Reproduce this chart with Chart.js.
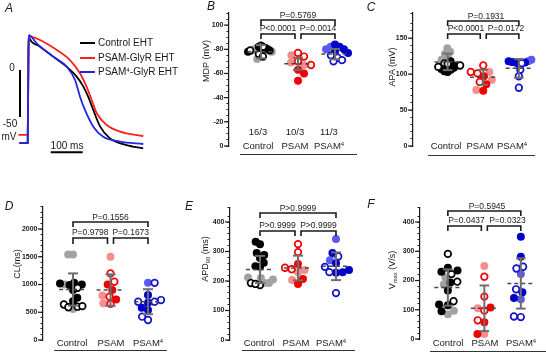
<!DOCTYPE html>
<html><head><meta charset="utf-8">
<script src="https://cdn.jsdelivr.net/npm/chart.js@4.4.1/dist/chart.umd.min.js"></script>
<style>
html,body{margin:0;padding:0;background:#fff;}
#fig{position:relative;width:546px;height:352px;overflow:hidden;font-family:"Liberation Sans",Arial,Helvetica,sans-serif;color:#1a1a1a;background:#fff;}
canvas{position:absolute;}
.t{position:absolute;transform:translate(-50%,-50%);white-space:nowrap;line-height:1;}
.l{position:absolute;transform:translate(0,-50%);white-space:nowrap;line-height:1;}
.r{position:absolute;transform:translate(-50%,-50%) rotate(-90deg);white-space:nowrap;line-height:1;}
.sup{font-size:0.62em;position:relative;top:-0.5em;}
.sub{font-size:0.65em;position:relative;top:0.3em;}
.hl{position:absolute;height:0;border-top:1px solid #333;}
</style></head>
<body><div id="fig"></div>
<script>
// ---------------- DATA ----------------
const categories = ['Control', 'PSAM', 'PSAM4'];
const nLabels = ['16/3', '10/3', '11/3'];
const legendLabels = ['Control EHT', 'PSAM-GlyR EHT', 'PSAM4-GlyR EHT'];

// Panel A: action potential traces (ms, mV)
const controlTimeMs = [-2, 24, 26.5, 28.5, 36.5, 62.5, 104, 146, 177, 198, 213, 229, 250, 281, 333, 385];
const controlMv     = [-77.7, -77.7, 20, 34, 30, 24.8, 14.2, 3.5, -7, -17.7, -28.4, -42.5, -60, -72.7, -79.8, -83.3];
const psamTimeMs = [-5, 24, 26.5, 28.5, 73, 115, 156, 187.5, 208, 224, 240, 271, 312.5, 385];
const psamMv     = [-69.1, -69.1, 20, 35.4, 30.1, 21.3, 10.6, -3.5, -17.7, -31.9, -46, -58.5, -65.6, -70.2];
const psam4TimeMs = [-2, 24, 26.5, 28.3, 52, 104, 146, 172, 187.5, 203, 229, 260, 312.5, 385];
const psam4Mv     = [-77.7, -77.7, 20, 37.2, 28.4, 14.2, 3.5, -10.6, -28.4, -42.5, -60.3, -71, -76.2, -78.7];
const scaleBarMv = 50, scaleBarMs = 100, timeBarStartMs = 96, timeBarMv = -87.6;

// Panel B: MDP (mV)
const mdpControlDark = [-82, -81, -80, -79, -78, -77];
const mdpControlLight = [-81, -80, -79, -78, -72];
const mdpControlOpen = [-83, -82, -79, -76, -74];
const mdpPsamDark = [-63, -60, -54];
const mdpPsamLight = [-75, -69, -67];
const mdpPsamOpen = [-77, -74, -70, -67];
const mdpPsam4Dark = [-84, -82, -80, -78, -77];
const mdpPsam4Light = [-82, -80];
const mdpPsam4Open = [-75, -73, -71, -70];
const mdpMean = [-78, -68, -76];
const mdpSd = [5.5, 5, 4.3];
const mdpP = ['P<0.0001', 'P=0.0014', 'P=0.5769'];

// Panel C: APA (mV)
const apaControlDark = [118, 112, 109, 107, 106, 104, 103];
const apaControlLight = [136, 131, 128, 124, 120];
const apaControlOpen = [115, 114, 112, 110];
const apaPsamDark = [97, 86, 77];
const apaPsamLight = [103, 92, 78];
const apaPsamOpen = [112, 103, 101, 89];
const apaPsam4Dark = [118, 117, 116, 114];
const apaPsam4Light = [120, 118, 116];
const apaPsam4Open = [115, 106, 97, 81];
const apaMean = [117, 95.5, 108];
const apaSd = [11.5, 10.5, 13];
const apaP = ['P<0.0001', 'P=0.0172', 'P=0.1931'];

// Panel D: CL (ms)
const clControlDark = [1030, 1020, 1000, 990, 900, 760, 700];
const clControlLight = [1540, 1540, 1000, 560];
const clControlOpen = [940, 640, 600, 590, 610];
const clPsamDark = [1000, 900, 730];
const clPsamLight = [1500, 800, 660];
const clPsamOpen = [1200, 1050, 780, 650];
const clPsam4Dark = [810, 670, 580, 540];
const clPsam4Light = [1030];
const clPsam4Open = [1030, 720, 690, 690, 420, 360];
const clMean = [910, 900, 690];
const clSd = [290, 283, 225];
const clP = ['P=0.9798', 'P=0.1673', 'P=0.1556'];

// Panel E: APD90 (ms)
const apdControlDark = [333, 325, 295, 288, 278, 262, 250, 248];
const apdControlLight = [212, 210, 205, 193, 193];
const apdControlOpen = [193, 186, 190];
const apdPsamDark = [258, 207, 190];
const apdPsamLight = [237, 230, 203];
const apdPsamOpen = [325, 298, 245, 240];
const apdPsam4Dark = [295, 260, 237, 230, 228];
const apdPsam4Light = [342, 270];
const apdPsam4Open = [283, 248, 230, 159];
const apdMean = [239, 244, 250];
const apdSd = [46, 42, 47];
const apdP = ['P>0.9999', 'P>0.9999', 'P>0.9999'];

// Panel F: Vmax (V/s)
const vmaxControlDark = [244, 234, 230, 193, 166, 118, 115, 95];
const vmaxControlLight = [210, 186, 97, 85];
const vmaxControlOpen = [291, 222, 196, 129];
const vmaxPsamDark = [108, 57, 17];
const vmaxPsamLight = [250, 105, 17];
const vmaxPsamOpen = [213, 145, 97, 64];
const vmaxPsam4Dark = [350, 281, 160, 140];
const vmaxPsam4Light = [222, 136];
const vmaxPsam4Open = [247, 241, 170, 77, 75];
const vmaxMean = [176, 105, 190];
const vmaxSd = [62, 78, 86];
const vmaxP = ['P=0.0437', 'P=0.0323', 'P=0.5945'];

// ---------------- STYLE ----------------
const FONT = '"Liberation Sans", Arial, Helvetica, sans-serif';
const traceColors = ['#000000', '#ff1f1f', '#2626e0'];
const groupColors = [
  {dark: '#000000', light: '#a2a2a2', ring: '#000000'},
  {dark: '#f20000', light: '#f58e8e', ring: '#f20000'},
  {dark: '#0000c8', light: '#5a5af2', ring: '#1212cc'}
];
const fig = document.getElementById('fig');
const supify = s => s.replace('PSAM4', 'PSAM<span class="sup">4</span>');

function txt(html, x, y, size, cls, extra) {
  const d = document.createElement('div');
  d.className = cls || 't';
  d.style.left = x + 'px'; d.style.top = y + 'px'; d.style.fontSize = size + 'px';
  d.innerHTML = html;
  if (extra) Object.assign(d.style, extra);
  fig.appendChild(d);
  return d;
}
function hline(x1, x2, y) {
  const d = document.createElement('div');
  d.className = 'hl';
  d.style.left = x1 + 'px'; d.style.top = y + 'px'; d.style.width = (x2 - x1) + 'px';
  fig.appendChild(d);
}
function mkCanvas(left, top, w, h) {
  const cv = document.createElement('canvas');
  cv.width = w; cv.height = h;
  cv.style.left = left + 'px'; cv.style.top = top + 'px';
  cv.style.width = w + 'px'; cv.style.height = h + 'px';
  fig.appendChild(cv);
  return cv;
}
function swarm(ys, D, maxW) {
  const idx = ys.map((v, i) => i).sort((a, b) => ys[a] - ys[b]);
  const placed = []; const off = new Array(ys.length).fill(0);
  let k = 0;
  for (const i of idx) {
    const y = ys[i];
    const forb = [];
    for (const p of placed) {
      const dy = Math.abs(p.y - y);
      if (dy < D) { const dx = Math.sqrt(D * D - dy * dy); forb.push([p.x - dx, p.x + dx]); }
    }
    const cands = [0];
    forb.forEach(f => cands.push(f[0], f[1]));
    const sgn = (k++ % 2) ? 1 : -1;
    cands.sort((a, b) => (Math.abs(a) - Math.abs(b)) || (a * sgn - b * sgn));
    let x = 0;
    for (const c of cands) {
      if (forb.every(f => c <= f[0] + 1e-6 || c >= f[1] - 1e-6)) { x = c; break; }
    }
    placed.push({x, y}); off[i] = x;
  }
  const m = Math.max(...off.map(Math.abs));
  if (m > maxW) for (let j = 0; j < off.length; j++) off[j] *= maxW / m;
  return off;
}
function lineDs(data, color, width, order, dash) {
  return {type: 'scatter', data, showLine: true, borderColor: color, borderWidth: width, pointRadius: 0,
          borderDash: dash || [], order, fill: false, tension: 0, clip: false};
}

// ---------------- PANEL A ----------------
(function () {
  const cv = mkCanvas(0, 0, 180, 170);
  const toXY = (t, v) => t.map((x, i) => ({x, y: v[i]}));
  const trace = (label, t, v, c) => ({label, data: toXY(t, v), showLine: true, borderColor: c, borderWidth: 1.8,
    pointRadius: 0, cubicInterpolationMode: 'monotone', fill: false, clip: false});
  new Chart(cv, {
    type: 'scatter',
    data: {datasets: [
      trace(legendLabels[2], psam4TimeMs, psam4Mv, traceColors[2]),
      trace(legendLabels[1], psamTimeMs, psamMv, traceColors[1]),
      trace(legendLabels[0], controlTimeMs, controlMv, traceColors[0]),
      lineDs([{x: 0, y: 0}, {x: 0, y: -scaleBarMv}], '#000', 2, 0),
      lineDs([{x: timeBarStartMs, y: timeBarMv}, {x: timeBarStartMs + scaleBarMs, y: timeBarMv}], '#000', 2, 0)
    ]},
    options: {
      responsive: false, animation: false, events: [],
      layout: {padding: {left: 10, right: 10, top: 20, bottom: 10}},
      scales: {
        x: {type: 'linear', display: false, min: -31.25, max: 468.75},
        y: {type: 'linear', display: false, min: -95.74, max: 53.19}
      },
      plugins: {legend: {display: false}, tooltip: {enabled: false}}
    }
  });
  // legend
  const ly = [43, 58, 72];
  legendLabels.forEach((lab, i) => {
    const s = document.createElement('div');
    s.style.cssText = `position:absolute;left:80px;top:${ly[i] - 1}px;width:15px;height:2px;background:${traceColors[i]};`;
    fig.appendChild(s);
    txt(supify(lab), 98, ly[i], 10, 'l');
  });
  txt('0', 12, 68, 10);
  txt('-50', 10, 124, 10);
  txt('mV', 9, 137, 10);
  txt('100 ms', 67, 146, 10);
})();

// ---------------- SCATTER PANELS ----------------
function buildPanel(p) {
  const cv = mkCanvas(p.left, p.top, p.w, p.h);
  const caLeft = p.axisX - p.left, caRight = p.right - p.left;
  const caTop = p.yTop - p.top, caBottom = p.y0 - p.top;
  const xmin = -(p.g0 - p.axisX) / p.sp;
  const xmax = xmin + (caRight - caLeft) / p.sp;
  const ppu = (p.y0 - p.yTop) / (p.max - p.min);
  const datasets = [];
  const styles = ['light', 'dark', 'open'];
  p.groups.forEach((g, gi) => {
    const all = [];
    styles.forEach(s => g[s].forEach(v => all.push({v, s})));
    const offs = swarm(all.map(a => a.v * ppu), 7.2, 13);
    const col = groupColors[gi];
    styles.forEach((s, si) => {
      const pts = all.map((a, i) => ({a, o: offs[i]})).filter(q => q.a.s === s)
        .map(q => ({x: gi + q.o / p.sp, y: q.a.v}));
      const open = s === 'open';
      datasets.push({
        data: pts, showLine: false, order: 5 - si, clip: false,
        pointRadius: open ? 3.3 : 4, pointHoverRadius: open ? 3.3 : 4,
        pointBorderWidth: open ? 1.7 : 0,
        pointBackgroundColor: open ? '#ffffff' : (s === 'dark' ? col.dark : col.light),
        pointBorderColor: open ? col.ring : (s === 'dark' ? col.dark : col.light)
      });
    });
    const m = p.mean[gi], sd = p.sd[gi];
    datasets.push(lineDs([{x: gi - 0.37, y: m}, {x: gi + 0.37, y: m}], '#4a4a4a', 1.5, 1, [4, 3]));
    const cap = 5 / p.sp;
    datasets.push(lineDs([{x: gi, y: m - sd}, {x: gi, y: m + sd}], '#6e6e6e', 2, 0));
    datasets.push(lineDs([{x: gi - cap, y: m + sd}, {x: gi + cap, y: m + sd}], '#6e6e6e', 2, 0));
    datasets.push(lineDs([{x: gi - cap, y: m - sd}, {x: gi + cap, y: m - sd}], '#6e6e6e', 2, 0));
  });
  const bracketPlugin = {
    id: 'brackets',
    afterDatasetsDraw(chart) {
      const xs = chart.scales.x, ys = chart.scales.y, ctx = chart.ctx;
      const gx = i => xs.getPixelForValue(i);
      const b = p.br;
      const seg = (x1, x2, yl, yg) => {
        ctx.beginPath();
        ctx.moveTo(x1, yg - p.top); ctx.lineTo(x1, yl - p.top); ctx.lineTo(x2, yl - p.top); ctx.lineTo(x2, yg - p.top);
        ctx.stroke();
      };
      ctx.save();
      ctx.strokeStyle = '#1a1a1a'; ctx.lineWidth = 1.6; ctx.lineJoin = 'miter';
      seg(gx(0), gx(1) - 3, b.low, b.lowLeg);
      seg(gx(1) + 3, gx(2), b.low, b.lowLeg);
      seg(gx(0), gx(2), b.top, b.topLeg);
      // longer major tick marks on the y axis
      ctx.lineWidth = 1.2;
      const ax = chart.chartArea.left;
      ys.ticks.forEach(t => {
        if (Math.round(t.value) % p.major === 0) {
          const y = ys.getPixelForValue(t.value);
          ctx.beginPath(); ctx.moveTo(ax - 5, y); ctx.lineTo(ax, y); ctx.stroke();
        }
      });
      ctx.restore();
    }
  };
  new Chart(cv, {
    type: 'scatter',
    data: {datasets},
    options: {
      responsive: false, animation: false, events: [],
      layout: {padding: {left: 0, right: p.w - caRight, top: caTop, bottom: p.h - caBottom}},
      scales: {
        x: {type: 'linear', display: false, min: xmin, max: xmax},
        y: {
          type: 'linear', position: 'left', min: p.min, max: p.max, reverse: !!p.reverse,
          afterFit: s => { s.width = caLeft; },
          ticks: {stepSize: p.step, autoSkip: false, padding: 3, color: '#1a1a1a',
                  font: {family: FONT, size: 7, weight: 'bold'},
                  callback: v => (Math.round(v) % p.major === 0 ? p.fmt(v) : '')},
          grid: {display: true, drawOnChartArea: false, drawTicks: true, tickLength: 2.5, color: '#1a1a1a', lineWidth: 1},
          border: {display: true, color: '#1a1a1a', width: 1.2}
        }
      },
      plugins: {legend: {display: false}, tooltip: {enabled: false}}
    },
    plugins: [bracketPlugin]
  });
  // texts
  txt(p.letter, p.letterPos[0], p.letterPos[1], 12, 't', {fontStyle: 'italic'});
  txt(p.title, p.titlePos[0], p.titlePos[1], 9, 'r');
  categories.forEach((c, i) => txt(supify(c), p.catX[i], p.catY, 9.5));
  if (p.nY) nLabels.forEach((n, i) => txt(n, p.catX[i], p.nY, 9.5));
  const gpx = i => p.g0 + i * p.sp;
  txt(p.pv[0], (gpx(0) + gpx(1) - 3) / 2, p.br.low - 6, 8.5);
  txt(p.pv[1], (gpx(1) + 3 + gpx(2)) / 2, p.br.low - 6, 8.5);
  txt(p.pv[2], (gpx(0) + gpx(2)) / 2, p.br.top - 5.5, 8.5);
  hline(p.ul[0], p.ul[1], p.ul[2]);
}

const grp = (d, l, o) => ({dark: d, light: l, open: o});

buildPanel({
  letter: 'B', letterPos: [211, 6], title: 'MDP (mV)', titlePos: [206, 61],
  left: 180, top: 0, w: 185, h: 170, axisX: 229, g0: 261, sp: 37, right: 357,
  yTop: 13, y0: 146, min: -110, max: 0, reverse: true, step: 5, major: 20,
  fmt: v => (v === -100 ? '100' : String(v)),
  groups: [grp(mdpControlDark, mdpControlLight, mdpControlOpen), grp(mdpPsamDark, mdpPsamLight, mdpPsamOpen), grp(mdpPsam4Dark, mdpPsam4Light, mdpPsam4Open)],
  mean: mdpMean, sd: mdpSd, pv: mdpP,
  br: {top: 20, topLeg: 26, low: 34, lowLeg: 39},
  catX: [258, 295, 329], catY: 146, nY: 132, ul: [240, 357, 154]
});
buildPanel({
  letter: 'C', letterPos: [371, 7], title: 'APA (mV)', titlePos: [392, 67],
  left: 365, top: 0, w: 181, h: 170, axisX: 413, g0: 449, sp: 37, right: 546,
  yTop: 13, y0: 146, min: 0, max: 185, step: 10, major: 50, fmt: v => String(v),
  groups: [grp(apaControlDark, apaControlLight, apaControlOpen), grp(apaPsamDark, apaPsamLight, apaPsamOpen), grp(apaPsam4Dark, apaPsam4Light, apaPsam4Open)],
  mean: apaMean, sd: apaSd, pv: apaP,
  br: {top: 21, topLeg: 26, low: 34, lowLeg: 39},
  catX: [446, 480, 512], catY: 146, ul: [428, 535, 155]
});
buildPanel({
  letter: 'D', letterPos: [9, 206], title: 'CL(ms)', titlePos: [17, 264],
  left: 0, top: 170, w: 180, h: 182, axisX: 43, g0: 73, sp: 37.5, right: 170,
  yTop: 206.8, y0: 340, min: 0, max: 2400, step: 100, major: 500, fmt: v => String(v),
  groups: [grp(clControlDark, clControlLight, clControlOpen), grp(clPsamDark, clPsamLight, clPsamOpen), grp(clPsam4Dark, clPsam4Light, clPsam4Open)],
  mean: clMean, sd: clSd, pv: clP,
  br: {top: 222, topLeg: 227, low: 238, lowLeg: 244},
  catX: [72, 111, 148], catY: 343, ul: [54, 167, 350]
});
buildPanel({
  letter: 'E', letterPos: [189, 206], title: 'APD<span class="sub">90</span> (ms)', titlePos: [205, 259],
  left: 180, top: 170, w: 185, h: 182, axisX: 230, g0: 260, sp: 38, right: 357,
  yTop: 207.25, y0: 340, min: 0, max: 450, step: 20, major: 100, fmt: v => String(v),
  groups: [grp(apdControlDark, apdControlLight, apdControlOpen), grp(apdPsamDark, apdPsamLight, apdPsamOpen), grp(apdPsam4Dark, apdPsam4Light, apdPsam4Open)],
  mean: apdMean, sd: apdSd, pv: apdP,
  br: {top: 213, topLeg: 218, low: 231, lowLeg: 236},
  catX: [259, 296, 331], catY: 343, ul: [242, 355, 350]
});
buildPanel({
  letter: 'F', letterPos: [371, 204], title: 'V<span class="sub">max</span> (V/s)', titlePos: [392, 270],
  left: 365, top: 170, w: 181, h: 182, axisX: 420, g0: 449, sp: 38, right: 546,
  yTop: 207.4, y0: 339, min: 0, max: 450, step: 20, major: 100, fmt: v => String(v),
  groups: [grp(vmaxControlDark, vmaxControlLight, vmaxControlOpen), grp(vmaxPsamDark, vmaxPsamLight, vmaxPsamOpen), grp(vmaxPsam4Dark, vmaxPsam4Light, vmaxPsam4Open)],
  mean: vmaxMean, sd: vmaxSd, pv: vmaxP,
  br: {top: 211, topLeg: 216, low: 226, lowLeg: 231},
  catX: [448, 485, 521], catY: 343, ul: [430, 546, 351]
});
txt('A', 9, 8, 12, 't', {fontStyle: 'italic'});
</script>
</body></html>
